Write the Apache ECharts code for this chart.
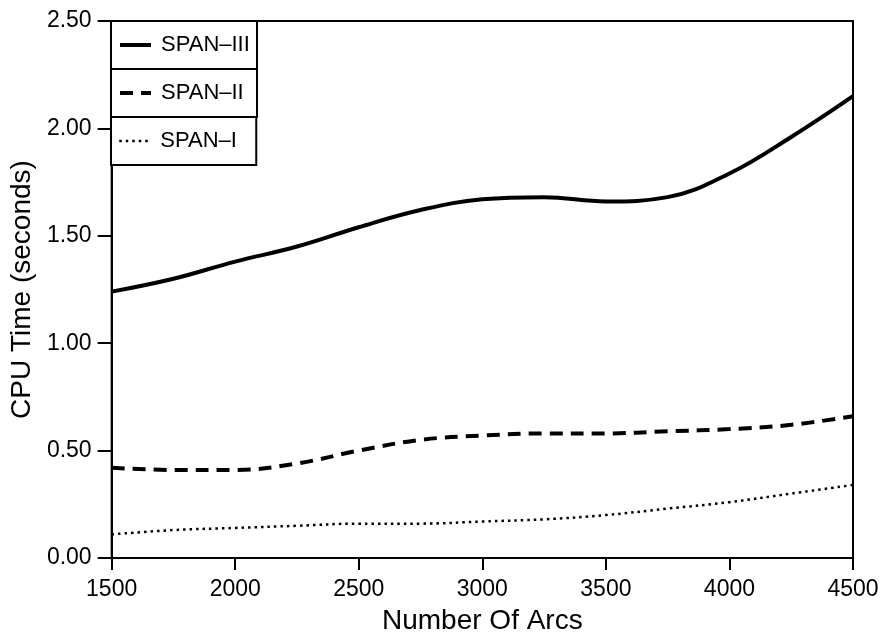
<!DOCTYPE html>
<html>
<head>
<meta charset="utf-8">
<script src="https://cdn.jsdelivr.net/npm/echarts@6/dist/echarts.min.js"></script>
<style>
  html, body { margin: 0; padding: 0; background: #fff; }
  #chart { width: 888px; height: 640px; }
</style>
</head>
<body>
<div id="chart"></div>
<script>
// Number of arcs sampled along the x axis
const arcs = [1500, 1750, 2000, 2250, 2500, 2750, 3000, 3250, 3500, 3750, 4000, 4250, 4500];

// CPU time in seconds for each algorithm
const span3 = [1.24, 1.30, 1.38, 1.45, 1.54, 1.62, 1.67, 1.68, 1.66, 1.68, 1.79, 1.96, 2.15];
const span2 = [0.42, 0.41, 0.41, 0.44, 0.50, 0.55, 0.57, 0.58, 0.58, 0.59, 0.60, 0.62, 0.66];
const span1 = [0.11, 0.13, 0.14, 0.15, 0.16, 0.16, 0.17, 0.18, 0.20, 0.23, 0.26, 0.30, 0.34];

const seriesNames = ['SPAN\u2013III', 'SPAN\u2013II', 'SPAN\u2013I'];

const FONT = 'Liberation Sans, Arial, Helvetica, sans-serif';
const LEGEND_FONT_SIZE = 22;
const LEGEND_BOX_WIDTH = 148;

// Line look per series: solid, dashed, dotted
const lineStyles = [
  { color: '#000', width: 4, type: 'solid' },
  { color: '#000', width: 4, type: [13, 8] },
  { color: '#000', width: 2.5, type: [2.5, 4] }
];

const pairs = vals => arcs.map((x, i) => [x, vals[i]]);

// Measure legend text so every legend box gets the same outer width
const measureCtx = document.createElement('canvas').getContext('2d');
measureCtx.font = LEGEND_FONT_SIZE + 'px ' + FONT;
const textWidth = s => measureCtx.measureText(s).width;

// One boxed legend per series, stacked so neighbouring borders overlap
function legendBox(idx, top) {
  const name = seriesNames[idx];
  const padLeft = 7, iconW = 31, textPadLeft = 5;
  const used = padLeft + iconW + 5 + textPadLeft + textWidth(name) + 4;
  const padRight = Math.max(2, LEGEND_BOX_WIDTH - used);
  return {
    data: [name],
    left: 111,
    top: top,
    orient: 'vertical',
    selectedMode: false,
    backgroundColor: '#fff',
    borderColor: '#000',
    borderWidth: 2,
    borderRadius: 0,
    padding: [13, padRight, 13, padLeft],
    itemWidth: iconW,
    itemHeight: 20,
    itemStyle: { opacity: 0 },
    lineStyle: Object.assign({}, lineStyles[idx]),
    textStyle: {
      color: '#000',
      fontFamily: FONT,
      fontSize: LEGEND_FONT_SIZE,
      padding: [0, 0, 0, textPadLeft]
    }
  };
}

const chart = echarts.init(document.getElementById('chart'), null, { renderer: 'canvas' });

chart.setOption({
  backgroundColor: '#fff',
  animation: false,
  grid: {
    left: 111,
    right: 35,
    top: 21,
    bottom: 81,
    show: true,
    borderColor: '#000',
    borderWidth: 2,
    backgroundColor: 'transparent'
  },
  legend: [
    legendBox(0, 21),
    legendBox(1, 69),
    legendBox(2, 117)
  ],
  xAxis: {
    type: 'value',
    min: 1500,
    max: 4500,
    interval: 500,
    name: 'Number Of Arcs',
    nameLocation: 'middle',
    nameGap: 49,
    nameTextStyle: { color: '#000', fontFamily: FONT, fontSize: 28 },
    axisLine: { show: true, lineStyle: { color: '#000', width: 2 } },
    axisTick: { show: true, inside: false, length: 12, lineStyle: { color: '#000', width: 2 } },
    axisLabel: {
      color: '#000', fontFamily: FONT, fontSize: 23, margin: 20,
      formatter: v => String(v)
    },
    splitLine: { show: false }
  },
  yAxis: {
    type: 'value',
    min: 0,
    max: 2.5,
    interval: 0.5,
    name: 'CPU Time (seconds)',
    nameLocation: 'middle',
    nameGap: 64,
    nameTextStyle: { color: '#000', fontFamily: FONT, fontSize: 28 },
    axisLine: { show: true, lineStyle: { color: '#000', width: 2 } },
    axisTick: { show: true, inside: false, length: 14, lineStyle: { color: '#000', width: 2 } },
    axisLabel: {
      color: '#000', fontFamily: FONT, fontSize: 23, margin: 20,
      formatter: v => v.toFixed(2)
    },
    splitLine: { show: false }
  },
  series: [span3, span2, span1].map((vals, i) => ({
    name: seriesNames[i],
    type: 'line',
    data: pairs(vals),
    smooth: 0.4,
    symbol: 'none',
    lineStyle: lineStyles[i],
    itemStyle: { color: '#000' }
  }))
});
</script>
</body>
</html>
